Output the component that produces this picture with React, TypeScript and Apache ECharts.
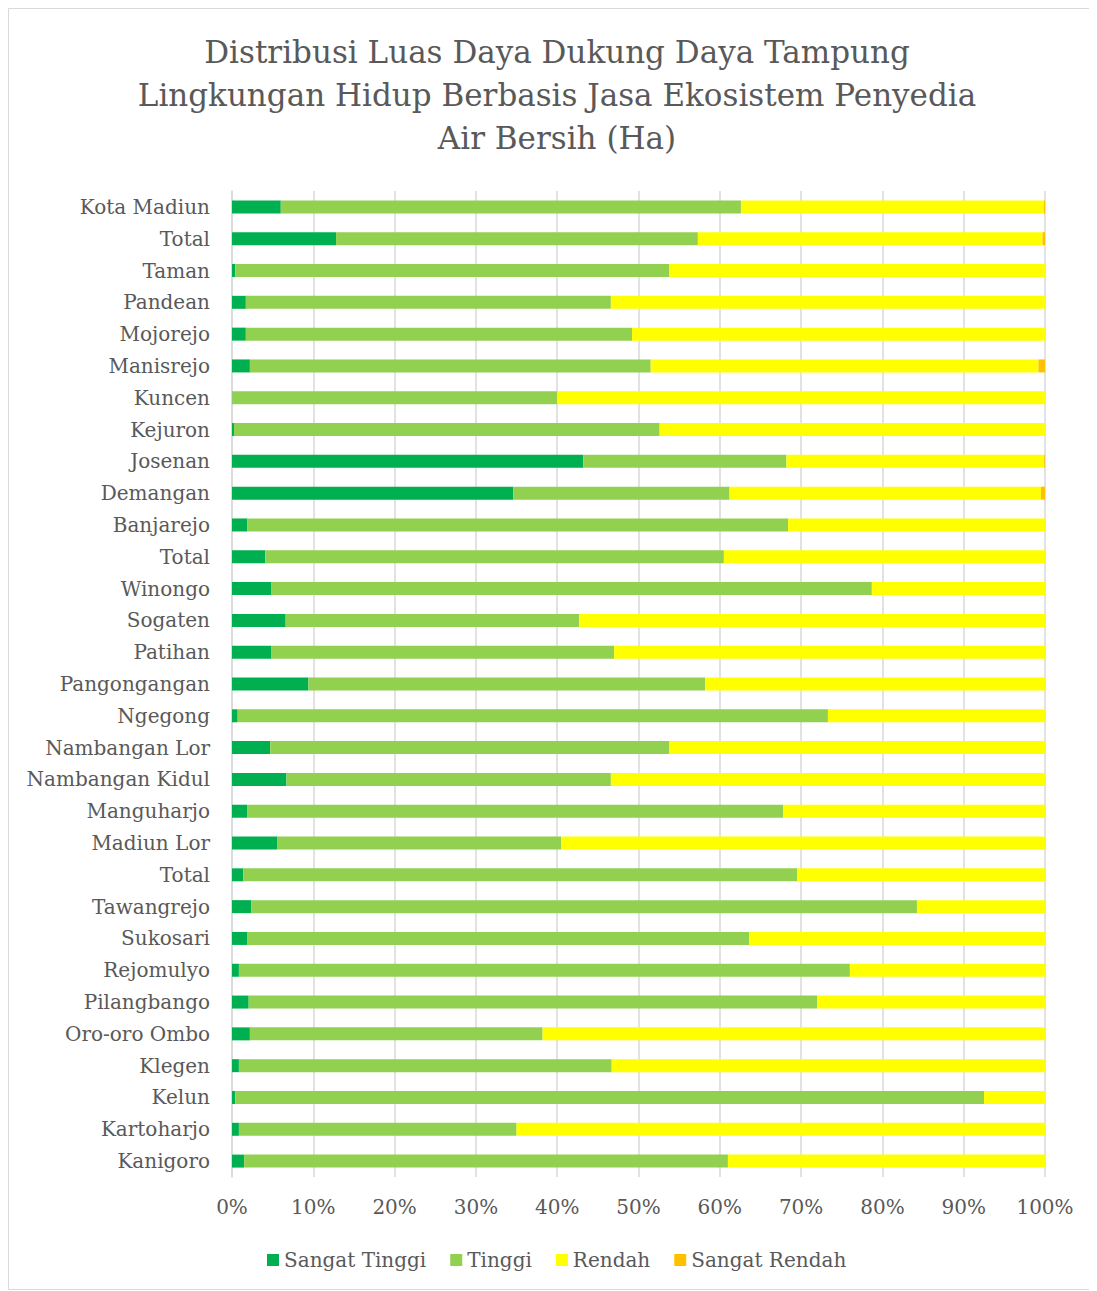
import React, { useEffect, useRef } from "react";
import * as echarts from "echarts";

// Categories listed bottom-to-top (ECharts category y-axis starts at the bottom)
const categories = [
  "Kanigoro", "Kartoharjo", "Kelun", "Klegen", "Oro-oro Ombo", "Pilangbango",
  "Rejomulyo", "Sukosari", "Tawangrejo", "Total", "Madiun Lor", "Manguharjo",
  "Nambangan Kidul", "Nambangan Lor", "Ngegong", "Pangongangan", "Patihan",
  "Sogaten", "Winongo", "Total", "Banjarejo", "Demangan", "Josenan", "Kejuron",
  "Kuncen", "Manisrejo", "Mojorejo", "Pandean", "Taman", "Total", "Kota Madiun",
];

// Shares in percent
const sangatTinggi = [
  1.5, 0.85, 0.4, 0.85, 2.2, 2.05, 0.85, 1.85, 2.35, 1.4, 5.6, 1.85,
  6.7, 4.7, 0.7, 9.4, 4.8, 6.6, 4.8, 4.1, 1.9, 34.6, 43.2, 0.25,
  0.05, 2.2, 1.7, 1.7, 0.4, 12.8, 6.0,
];
const tinggi = [
  59.5, 34.15, 92.1, 45.85, 36.0, 69.95, 75.15, 61.75, 81.9, 68.1, 34.9, 65.95,
  39.9, 49.1, 72.6, 48.8, 42.2, 36.1, 73.9, 56.4, 66.5, 26.6, 25.0, 52.35,
  39.95, 49.3, 47.5, 44.9, 53.4, 44.5, 56.6,
];
const rendah = [
  39.0, 65.0, 7.5, 53.3, 61.8, 28.0, 24.0, 36.4, 15.75, 30.5, 59.5, 32.2,
  53.4, 46.2, 26.7, 41.8, 53.0, 57.3, 21.3, 39.5, 31.6, 38.3, 31.7, 47.4,
  60.0, 47.7, 50.8, 53.4, 46.2, 42.4, 37.25,
];
const sangatRendah = [
  0, 0, 0, 0, 0, 0, 0, 0, 0, 0, 0, 0,
  0, 0, 0, 0, 0, 0, 0, 0, 0, 0.5, 0.1, 0,
  0, 0.8, 0, 0, 0, 0.3, 0.15,
];

const seriesNames = ["Sangat Tinggi", "Tinggi", "Rendah", "Sangat Rendah"];
const seriesColors = ["#00B050", "#92D050", "#FFFF00", "#FFC000"];
const seriesValues = [sangatTinggi, tinggi, rendah, sangatRendah];

const titleLines = [
  "Distribusi Luas Daya Dukung Daya Tampung",
  "Lingkungan Hidup Berbasis Jasa Ekosistem Penyedia",
  "Air Bersih (Ha)",
];

const FONT = "'DejaVu Serif', serif";
const TEXT = "#595959";

export default function App() {
  const ref = useRef<HTMLDivElement>(null);

  useEffect(() => {
    if (!ref.current) return;
    const chart = echarts.init(ref.current, null, { renderer: "svg" });
    chart.setOption({
      animation: false,
      backgroundColor: "#ffffff",
      graphic: [
        {
          type: "rect",
          shape: { x: 0.5, y: 0.5, width: 1087, height: 1281 },
          style: { fill: "none", stroke: "#d9d9d9", lineWidth: 1 },
          silent: true,
        },
        {
          type: "text",
          x: 549,
          y: 22,
          style: {
            text: titleLines.join("\n"),
            textAlign: "center",
            textVerticalAlign: "top",
            fontFamily: FONT,
            fontSize: 31,
            lineHeight: 43,
            fill: TEXT,
          },
        },
      ],
      legend: {
        data: seriesNames,
        left: 254,
        top: 1237,
        icon: "rect",
        itemWidth: 12,
        itemHeight: 12,
        itemGap: 24,
        textStyle: { fontFamily: FONT, fontSize: 20, color: TEXT },
      },
      grid: { left: 224, top: 183, width: 813, height: 986, containLabel: false },
      xAxis: {
        type: "value",
        min: 0,
        max: 100,
        interval: 10,
        axisLabel: {
          formatter: "{value}%",
          fontFamily: FONT,
          fontSize: 20,
          color: TEXT,
          margin: 20,
        },
        axisLine: { show: false },
        axisTick: { show: false },
        splitLine: { show: true, lineStyle: { color: "#d9d9d9", width: 1.5 } },
      },
      yAxis: {
        type: "category",
        data: categories,
        axisLine: { show: true, lineStyle: { color: "#d9d9d9", width: 1.5 } },
        axisTick: { show: false },
        axisLabel: {
          fontFamily: FONT,
          fontSize: 20,
          color: TEXT,
          margin: 22,
          interval: 0,
        },
      },
      series: seriesNames.map((name, i) => ({
        name,
        type: "bar",
        stack: "total",
        barWidth: 13,
        itemStyle: { color: seriesColors[i] },
        data: seriesValues[i],
      })),
    });
    return () => chart.dispose();
  }, []);

  return <div ref={ref} style={{ width: 1089, height: 1283 }} />;
}
